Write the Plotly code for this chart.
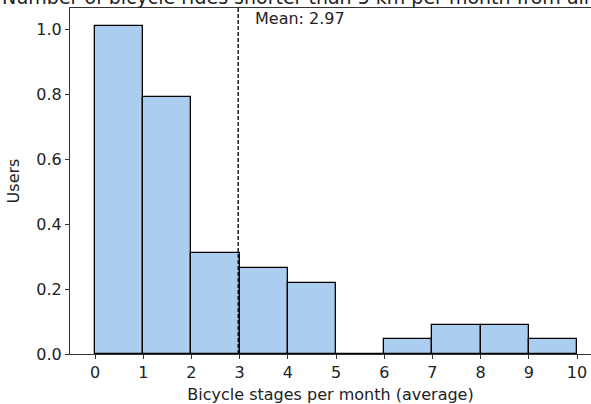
import plotly.graph_objects as go

bin_left = [0, 1, 2, 3, 4, 5, 6, 7, 8, 9]
users = [1.01, 0.79, 0.31, 0.265, 0.22, 0.0, 0.045, 0.09, 0.09, 0.045]
mean_value = 2.97
x_ticks = [0, 1, 2, 3, 4, 5, 6, 7, 8, 9, 10]
y_ticks = [0.0, 0.2, 0.4, 0.6, 0.8, 1.0]
title_text = "Number of bicycle rides shorter than 5 km per month from all records"

font = "DejaVu Sans"
fs = 16

fig = go.Figure()
fig.add_trace(go.Bar(
    x=[b + 0.5 for b in bin_left],
    y=users,
    width=1,
    marker=dict(color="#abcdf0", line=dict(color="black", width=1.3)),
    showlegend=False,
))

fig.add_shape(type="line", x0=mean_value, x1=mean_value, y0=0, y1=1,
              xref="x", yref="paper",
              line=dict(color="black", width=1.3, dash="4px,2px"))
fig.add_annotation(x=mean_value * 1.1, y=1.0, xref="x", yref="paper",
                   text=f"Mean: {mean_value:.2f}", showarrow=False,
                   xanchor="left", yanchor="top", yshift=1,
                   font=dict(family=font, size=fs, color="#222"))

fig.update_layout(
    width=591, height=404,
    margin=dict(l=70, r=0, t=8, b=50),
    plot_bgcolor="white", paper_bgcolor="white",
    font=dict(family=font, size=fs, color="#222"),
    title=dict(text=title_text, x=0.565, xanchor="center", y=0.99, yanchor="bottom",
               font=dict(family=font, size=19, color="#222")),
    bargap=0,
)
fig.update_xaxes(
    range=[-0.52, 10.29], tickvals=x_ticks, ticktext=[str(t) for t in x_ticks],
    showline=True, linecolor="#333", linewidth=1.2, mirror=True,
    ticks="outside", ticklen=4, tickcolor="#333", showgrid=False, zeroline=False,
    tickfont=dict(size=fs), automargin=False,
    title=dict(text="Bicycle stages per month (average)", standoff=10,
               font=dict(size=fs)),
)
fig.update_yaxes(
    range=[0, 1.065], tickvals=y_ticks, ticktext=[f"{t:.1f}" for t in y_ticks],
    showline=True, linecolor="#333", linewidth=1.2, mirror=False,
    ticks="outside", ticklen=4, tickcolor="#333", showgrid=False, zeroline=False,
    tickfont=dict(size=fs), automargin=False,
    title=dict(text="Users", standoff=12, font=dict(size=fs)),
)

fig.write_html("out.html", config={"displayModeBar": False},
               post_script="document.body.style.margin='0';")
